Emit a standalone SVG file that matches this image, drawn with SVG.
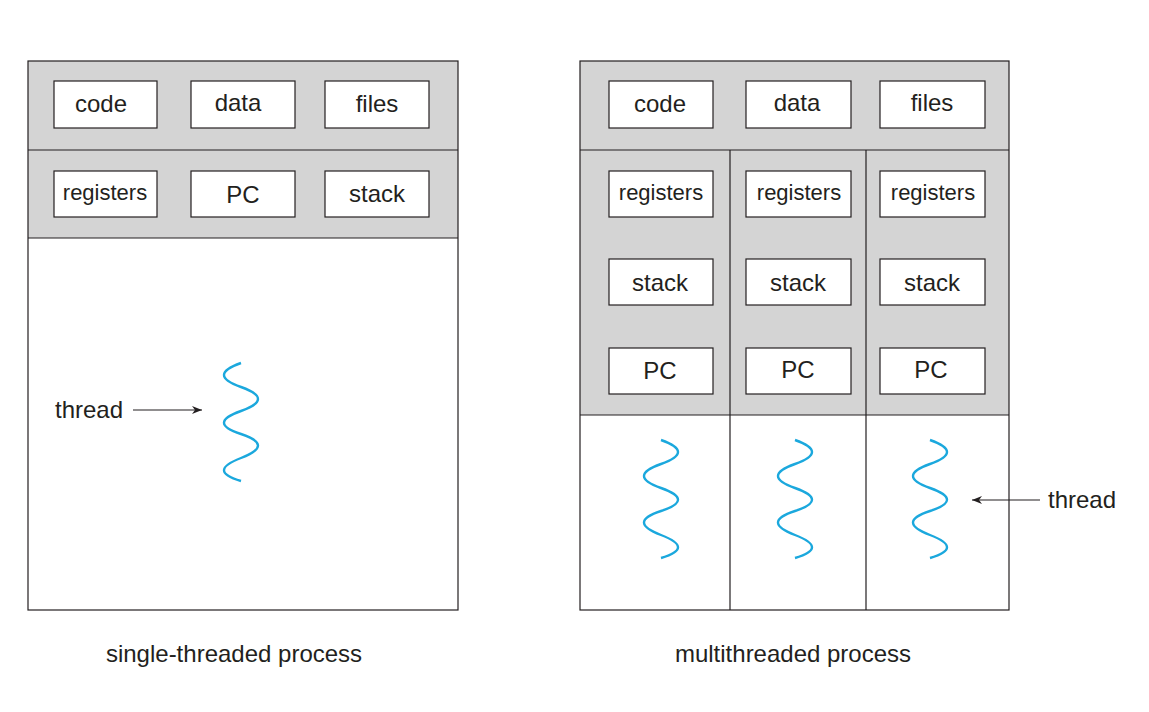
<svg xmlns="http://www.w3.org/2000/svg" width="1149" height="712" viewBox="0 0 1149 712">
<defs>
<style>
text{font-family:"Liberation Sans",Arial,sans-serif;fill:#231f20;}
.b{fill:#fff;stroke:#231f20;stroke-width:1.2}
.g{fill:#d4d4d4}
.ln{stroke:#231f20;stroke-width:1.2;fill:none}
.t{font-size:24px;text-anchor:middle}
.w{fill:none;stroke:#1ba8dd;stroke-width:2.4}
</style>
<marker id="ah" viewBox="0 0 10 10" refX="10" refY="5" markerWidth="10" markerHeight="10" markerUnits="userSpaceOnUse" orient="auto"><path d="M0,1 L10,5 L0,9 L3,5Z" fill="#231f20"/></marker>
<path id="wv" d="M0,0 Q-34,12 0,24 T0,48 T0,71 T0,95 T0,118"/>
</defs>
<rect width="1149" height="712" fill="#fff"/>
<g id="single">
<rect class="g" x="28" y="61" width="430" height="177"/>
<rect class="ln" x="28" y="61" width="430" height="549"/>
<line class="ln" x1="28" y1="150" x2="458" y2="150"/>
<line class="ln" x1="28" y1="238" x2="458" y2="238"/>
</g>
<g id="s-code"><rect class="b" x="54" y="81" width="103" height="47"/><text class="t" x="101" y="112">code</text></g>
<g id="s-data"><rect class="b" x="191" y="81" width="104" height="47"/><text class="t" x="238" y="111">data</text></g>
<g id="s-files"><rect class="b" x="325" y="81" width="104" height="47"/><text class="t" x="377" y="112">files</text></g>
<g id="s-reg"><rect class="b" x="54" y="171" width="103" height="46"/><text class="t" x="105" y="200" style="font-size:22px">registers</text></g>
<g id="s-pc"><rect class="b" x="191" y="171" width="104" height="46"/><text class="t" x="243" y="203">PC</text></g>
<g id="s-stack"><rect class="b" x="325" y="171" width="104" height="46"/><text class="t" x="377" y="202">stack</text></g>
<g id="s-thread"><use href="#wv" x="241" y="363" class="w"/></g>
<g id="multi">
<rect class="g" x="580" y="61" width="429" height="354"/>
<rect class="ln" x="580" y="61" width="429" height="549"/>
<line class="ln" x1="580" y1="150" x2="1009" y2="150"/>
<line class="ln" x1="580" y1="415" x2="1009" y2="415"/>
<line class="ln" x1="730" y1="150" x2="730" y2="610"/>
<line class="ln" x1="866" y1="150" x2="866" y2="610"/>
</g>
<g id="m-code"><rect class="b" x="609" y="81" width="104" height="47"/><text class="t" x="660" y="112">code</text></g>
<g id="m-data"><rect class="b" x="746" y="81" width="105" height="47"/><text class="t" x="797" y="111">data</text></g>
<g id="m-files"><rect class="b" x="880" y="81" width="105" height="47"/><text class="t" x="932" y="111">files</text></g>
<g id="m-reg1"><rect class="b" x="609" y="171" width="104" height="46"/><text class="t" x="661" y="200" style="font-size:22px">registers</text></g>
<g id="m-reg2"><rect class="b" x="746" y="171" width="105" height="46"/><text class="t" x="799" y="200" style="font-size:22px">registers</text></g>
<g id="m-reg3"><rect class="b" x="880" y="171" width="105" height="46"/><text class="t" x="933" y="200" style="font-size:22px">registers</text></g>
<g id="m-stack1"><rect class="b" x="609" y="259" width="104" height="46"/><text class="t" x="660" y="291">stack</text></g>
<g id="m-stack2"><rect class="b" x="746" y="259" width="105" height="46"/><text class="t" x="798" y="291">stack</text></g>
<g id="m-stack3"><rect class="b" x="880" y="259" width="105" height="46"/><text class="t" x="932" y="291">stack</text></g>
<g id="m-pc1"><rect class="b" x="609" y="348" width="104" height="46"/><text class="t" x="660" y="379">PC</text></g>
<g id="m-pc2"><rect class="b" x="746" y="348" width="105" height="46"/><text class="t" x="798" y="378">PC</text></g>
<g id="m-pc3"><rect class="b" x="880" y="348" width="105" height="46"/><text class="t" x="931" y="378">PC</text></g>
<g id="m-threads">
<use href="#wv" x="661" y="440" class="w" transform="translate(1322,0) scale(-1,1)"/>
<use href="#wv" x="795" y="440" class="w" transform="translate(1590,0) scale(-1,1)"/>
<use href="#wv" x="930" y="440" class="w" transform="translate(1860,0) scale(-1,1)"/>
</g>
<g id="connectors">
<line class="ln" x1="133" y1="410" x2="202" y2="410" marker-end="url(#ah)"/>
<line class="ln" x1="1040" y1="500" x2="972" y2="500" marker-end="url(#ah)"/>
</g>
<text x="55" y="418" style="font-size:24px">thread</text>
<text x="1048" y="508" style="font-size:24px">thread</text>
<text class="t" x="234" y="662">single-threaded process</text>
<text class="t" x="793" y="662">multithreaded process</text>
</svg>
